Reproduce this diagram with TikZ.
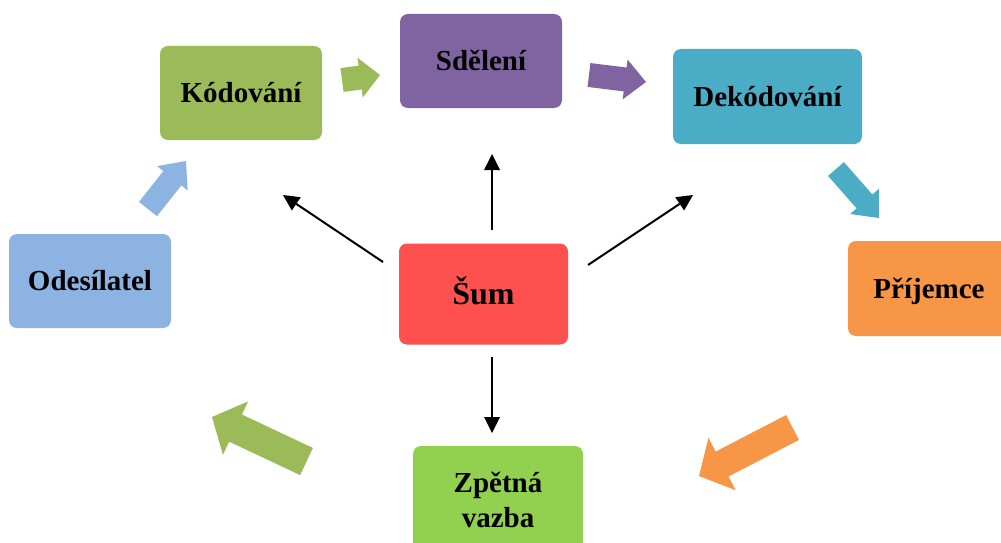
\documentclass[tikz,border=0pt]{standalone}
\usepackage{fontspec}
\setmainfont{Liberation Serif}
\usetikzlibrary{arrows.meta,calc}
\definecolor{cKod}{HTML}{9BBB59}
\definecolor{cSdel}{HTML}{8064A2}
\definecolor{cDek}{HTML}{4BACC6}
\definecolor{cOde}{HTML}{8DB3E2}
\definecolor{cSum}{HTML}{FF5050}
\definecolor{cPri}{HTML}{F79646}
\definecolor{cZpet}{HTML}{92D050}
% #1 start, #2 tip, #3 half shaft width, #4 half head width, #5 head length, #6 colour
\newcommand\mkfatarrow[6]{%
  \coordinate (#1b) at ($(#2)!#5pt!(#1)$);
  \fill[#6] ($(#1)!#3pt!90:(#2)$) -- ($(#1b)!#3pt!90:(#2)$) -- ($(#1b)!#4pt!90:(#2)$)
    -- (#2) -- ($(#1b)!#4pt!-90:(#2)$) -- ($(#1b)!#3pt!-90:(#2)$) -- ($(#1)!#3pt!-90:(#2)$) -- cycle;}
\begin{document}
\begin{tikzpicture}[x=1pt,y=-1pt,
  box/.style={rounded corners=8pt, inner sep=0pt, text height=19pt, text depth=0pt,
    font=\fontsize{29}{35}\selectfont\bfseries, align=center},
  noise/.style={line width=2pt, -{Triangle[length=16pt,width=16pt,line width=0pt]}}]
\useasboundingbox (0,0) rectangle (1001,543);
\clip (0,0) rectangle (1001,543);
\fill[white] (0,0) rectangle (1001,543);
% boxes
\node[box, fill=cKod, minimum width=162pt, minimum height=94pt] (kod) at (241,93) {Kódování};
\node[box, fill=cSdel, minimum width=162pt, minimum height=94pt] (sdel) at (481,61) {Sdělení};
\node[box, fill=cDek, minimum width=189pt, minimum height=95pt] (dek) at (767.5,96.5) {Dekódování};
\node[box, fill=cOde, minimum width=162pt, minimum height=94pt] (ode) at (90,281) {Odesílatel};
\node[box, fill=cSum, minimum width=169pt, minimum height=101pt, text height=21pt,
  font=\fontsize{32}{38}\selectfont\bfseries] (sum) at (483.5,294) {Šum};
\node[box, fill=cPri, minimum width=162pt, minimum height=95pt] (pri) at (929,288.5) {Příjemce};
\node[box, fill=cZpet, minimum width=170pt, minimum height=108pt, text height=, text depth=] (zpet) at (498,500) {Zpětná\\vazba};
% fat arrows
\coordinate (fa) at (342,80);   \coordinate (fA) at (380,75);
\coordinate (fb) at (589,75);   \coordinate (fB) at (646,82);
\coordinate (fc) at (836,169);  \coordinate (fC) at (879,218);
\coordinate (fd) at (148,209);  \coordinate (fD) at (186,161);
\coordinate (fe) at (306.5,461.5); \coordinate (fE) at (212,417);
\coordinate (ff) at (792.5,427.5); \coordinate (fF) at (699,476);
\mkfatarrow{fa}{fA}{12}{20}{20}{cKod}
\mkfatarrow{fb}{fB}{12}{20}{21}{cSdel}
\mkfatarrow{fc}{fC}{10.5}{19}{22}{cDek}
\mkfatarrow{fd}{fD}{11.5}{19.5}{22}{cOde}
\mkfatarrow{fe}{fE}{15}{29.5}{26}{cKod}
\mkfatarrow{ff}{fF}{14}{29.5}{26}{cPri}
% noise arrows
\coordinate (nu1) at (492,230); \coordinate (nu2) at (492,154);
\coordinate (nd1) at (492,357); \coordinate (nd2) at (492,433);
\coordinate (nl1) at (383,262); \coordinate (nl2) at (283,195);
\coordinate (nr1) at (588,265); \coordinate (nr2) at (693,195);
\draw[noise] (nu1) -- (nu2);
\draw[noise] (nd1) -- (nd2);
\draw[noise] (nl1) -- (nl2);
\draw[noise] (nr1) -- (nr2);
\end{tikzpicture}
\end{document}
